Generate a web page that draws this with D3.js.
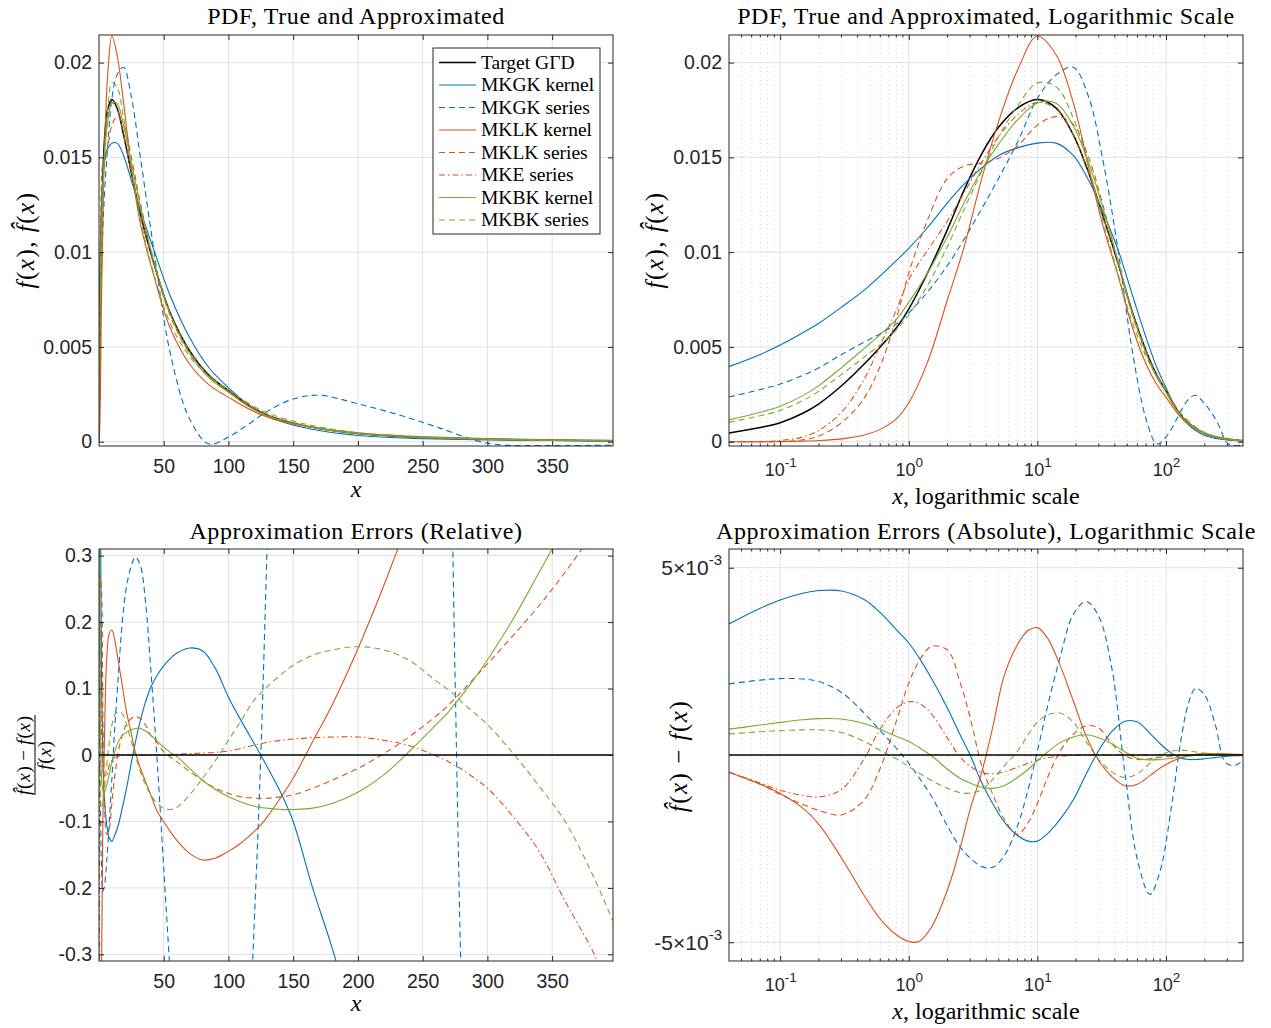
<!DOCTYPE html>
<html>
<head>
<meta charset="utf-8">
<script src="https://cdn.jsdelivr.net/npm/d3@7"></script>
<style>
  body { margin: 0; background: #fff; }
</style>
</head>
<body>
<script>
// ---- data ----

// PDF panels (top row), x sample points and values in units of 1e-3
const pdfX = [0.04, 0.07, 0.1, 0.15, 0.2, 0.3, 0.45, 0.6, 0.8, 1, 1.4, 2, 2.7, 3.7, 5, 7, 10, 14, 19, 25,
              32, 42, 55, 70, 85, 100, 115, 130, 150, 170, 200, 230, 260, 300, 350, 397];
const pdfTarget = [0.46, 0.75, 1.0, 1.5, 2.0, 2.95, 4.1, 5.0, 6.0, 7.0, 8.9, 11.2, 13.3, 15.2, 16.6, 17.6, 18.05, 17.6, 16.2, 14.2,
                   12.0, 9.5, 6.8, 4.8, 3.5, 2.7, 1.95, 1.4, 0.98, 0.7, 0.43, 0.29, 0.2, 0.13, 0.08, 0.05];
const pdfMkgkKernel = [3.96, 4.6, 5.1, 5.75, 6.25, 7.1, 8.0, 8.75, 9.55, 10.2, 11.3, 12.6, 13.6, 14.45, 15.1, 15.5, 15.75, 15.75, 15.1, 13.8,
                       12.2, 10.2, 7.7, 5.5, 3.9, 2.85, 1.97, 1.33, 0.88, 0.59, 0.33, 0.21, 0.14, 0.09, 0.06, 0.04];
const pdfMkgkSeries = [2.36, 2.75, 3.04, 3.5, 3.9, 4.6, 5.25, 5.7, 6.2, 6.8, 7.9, 9.3, 10.7, 12.3, 13.9, 15.8, 18.1, 19.35, 19.75, 18.2,
                       15.0, 10.3, 4.7, 1.2, -0.12, 0.25, 0.9, 1.6, 2.25, 2.45, 2.0, 1.45, 0.8, -0.08, -0.2, -0.18];
const pdfMklkKernel = [0.0, 0.0, 0.01, 0.03, 0.06, 0.15, 0.35, 0.65, 1.2, 2.05, 4.2, 7.5, 10.3, 13.9, 16.9, 19.6, 21.4, 20.4, 17.9, 14.5,
                       11.5, 8.85, 6.0, 4.1, 3.0, 2.35, 1.75, 1.3, 0.93, 0.7, 0.46, 0.33, 0.24, 0.16, 0.1, 0.07];
const pdfMklkSeries = [0.0, 0.0, 0.0, 0.1, 0.3, 1.0, 2.3, 4.0, 6.5, 8.9, 11.7, 13.9, 14.55, 14.7, 14.95, 15.6, 16.7, 17.15, 16.75, 15.0,
                       12.6, 9.55, 6.65, 4.65, 3.4, 2.65, 1.95, 1.4, 0.98, 0.7, 0.43, 0.29, 0.2, 0.13, 0.08, 0.05];
const pdfMkeSeries = [0.0, 0.0, 0.06, 0.25, 0.6, 1.55, 3.3, 5.1, 6.95, 8.55, 10.1, 11.65, 13.15, 14.75, 16.1, 17.25, 17.9, 17.55, 16.2, 14.2,
                      12.0, 9.5, 6.8, 4.8, 3.5, 2.72, 1.98, 1.43, 1.0, 0.72, 0.44, 0.3, 0.2, 0.13, 0.08, 0.05];
const pdfMkbkKernel = [1.15, 1.55, 1.87, 2.43, 2.96, 3.91, 4.92, 5.65, 6.45, 7.35, 8.9, 10.82, 12.62, 14.35, 15.71, 16.98, 17.87, 17.85, 16.67, 14.74,
                       12.43, 9.65, 6.73, 4.67, 3.37, 2.6, 1.87, 1.35, 0.96, 0.69, 0.43, 0.29, 0.2, 0.13, 0.08, 0.05];
const pdfMkbkSeries = [1.02, 1.37, 1.65, 2.17, 2.67, 3.55, 4.46, 5.12, 5.9, 6.69, 8.25, 10.31, 12.28, 14.28, 16.1, 17.7, 18.93, 18.72, 17.08, 14.5,
                       11.75, 8.95, 6.25, 4.5, 3.45, 2.75, 2.05, 1.52, 1.09, 0.78, 0.48, 0.32, 0.22, 0.14, 0.08, 0.05];

// relative errors (bottom left); values far outside the axis limits are capped at +-1
const relX = [0.04, 1, 2, 3, 4, 6, 8, 10, 12, 15, 18, 21, 25, 28, 32, 36, 40, 45, 50, 55, 60, 70, 80, 90, 100,
              110, 120, 125, 130, 140, 150, 165, 180, 200, 220, 240, 260, 270, 275, 280, 290, 300, 320, 340, 360, 380, 397];
const relTarget = relX.map(() => 0);
const relMkgkKernel = [1, 0.43, 0.11, 0.0, -0.06, -0.105, -0.125, -0.13, -0.122, -0.105, -0.08, -0.053, -0.012, 0.018, 0.052, 0.08, 0.102, 0.12, 0.134, 0.145, 0.153, 0.161, 0.157, 0.13, 0.087,
                       0.051, 0.017, 0.0, -0.018, -0.055, -0.1, -0.2, -0.29, -0.43, -0.6, -0.8, -1, -1, -1, -1, -1, -1, -1, -1, -1, -1, -1];
const relMkgkSeries = [1, -0.03, -0.17, -0.205, -0.2, -0.16, -0.1, -0.035, 0.035, 0.12, 0.2, 0.25, 0.285, 0.298, 0.285, 0.23, 0.13, -0.01, -0.17, -0.33, -0.5, -0.77, -0.93, -1, -0.92,
                       -0.68, -0.25, 0.0, 0.32, 0.95, 1, 1, 1, 1, 1, 1, 1, 0.6, 0.12, -0.36, -1, -1, -1, -1, -1, -1, -1];
const relMklkKernel = [-1, -0.71, -0.32, -0.1, 0.0, 0.145, 0.183, 0.188, 0.175, 0.14, 0.105, 0.068, 0.032, 0.005, -0.02, -0.04, -0.06, -0.085, -0.1, -0.115, -0.128, -0.148, -0.158, -0.155, -0.145,
                       -0.132, -0.115, -0.105, -0.093, -0.065, -0.035, 0.02, 0.075, 0.16, 0.255, 0.36, 0.48, 0.55, 0.6, 0.65, 0.75, 0.85, 1, 1, 1, 1, 1];
const relMklkSeries = [-1, 0.27, 0.25, 0.07, -0.04, -0.12, -0.11, -0.072, -0.035, 0.005, 0.03, 0.045, 0.055, 0.058, 0.055, 0.045, 0.03, 0.018, 0.005, -0.003, -0.01, -0.025, -0.038, -0.05, -0.058,
                       -0.063, -0.065, -0.065, -0.065, -0.063, -0.06, -0.05, -0.038, -0.02, 0.002, 0.028, 0.058, 0.075, 0.085, 0.095, 0.116, 0.137, 0.18, 0.225, 0.275, 0.33, 0.38];
const relMkeSeries = [-1, 0.2, 0.04, -0.02, -0.03, -0.03, -0.015, -0.008, -0.004, -0.002, 0, 0, 0, 0, 0, 0, 0, 0, 0, 0, 0.001, 0.002, 0.003, 0.004, 0.006,
                      0.01, 0.015, 0.017, 0.019, 0.022, 0.024, 0.026, 0.027, 0.027, 0.022, 0.014, -0.001, -0.01, -0.016, -0.021, -0.035, -0.05, -0.093, -0.145, -0.22, -0.29, -0.36];
const relMkbkKernel = [1, 0.05, -0.035, -0.053, -0.057, -0.045, -0.028, -0.01, 0.004, 0.02, 0.029, 0.034, 0.038, 0.04, 0.04, 0.036, 0.03, 0.021, 0.012, 0.004, -0.002, -0.02, -0.038, -0.052, -0.063,
                       -0.071, -0.077, -0.079, -0.08, -0.082, -0.082, -0.08, -0.073, -0.056, -0.03, 0.006, 0.045, 0.065, 0.077, 0.089, 0.115, 0.143, 0.205, 0.275, 0.345, 0.41, 0.47];
const relMkbkSeries = [1, -0.045, -0.08, -0.075, -0.055, -0.015, 0.02, 0.045, 0.06, 0.065, 0.062, 0.048, 0.02, 0.0, -0.025, -0.045, -0.06, -0.073, -0.08, -0.082, -0.079, -0.06, -0.035, -0.008, 0.022,
                       0.052, 0.083, 0.093, 0.103, 0.12, 0.135, 0.15, 0.158, 0.163, 0.158, 0.142, 0.112, 0.098, 0.09, 0.08, 0.063, 0.046, 0.002, -0.047, -0.1, -0.175, -0.25];

// absolute errors (bottom right), units of 1e-3
const errX = [0.04, 0.07, 0.1, 0.15, 0.2, 0.3, 0.45, 0.6, 0.8, 1, 1.2, 1.5, 2, 2.5, 3, 3.7, 4.5, 5.5, 7, 8.5,
              10, 12, 15, 19, 24, 30, 38, 48, 60, 75, 90, 110, 130, 150, 170, 200, 240, 290, 340, 397];
const errTarget = errX.map(() => 0);
const errMkgkKernel = [3.5, 3.92, 4.14, 4.32, 4.39, 4.38, 4.15, 3.8, 3.35, 2.99, 2.6, 2.05, 1.25, 0.55, 0.0, -0.75, -1.3, -1.78, -2.15, -2.3,
                       -2.3, -2.1, -1.72, -1.2, -0.5, 0.12, 0.63, 0.9, 0.88, 0.58, 0.3, 0.05, -0.08, -0.12, -0.12, -0.1, -0.07, -0.04, -0.02, -0.01];
const errMkgkSeries = [1.9, 2.0, 2.04, 2.03, 1.96, 1.67, 1.12, 0.65, 0.18, -0.22, -0.6, -1.1, -1.9, -2.45, -2.75, -2.98, -3.0, -2.7, -1.9, -0.9,
                       0.1, 1.3, 2.6, 3.75, 4.1, 3.7, 2.3, -0.5, -2.8, -3.72, -3.1, -1.4, 0.35, 1.4, 1.78, 1.6, 0.85, -0.2, -0.28, -0.15];
const errMklkKernel = [-0.46, -0.78, -1.03, -1.42, -1.85, -2.75, -3.75, -4.38, -4.8, -4.98, -4.98, -4.6, -3.6, -2.5, -1.45, -0.45, 0.75, 2.1, 2.95, 3.33,
                       3.4, 3.12, 2.4, 1.45, 0.5, -0.15, -0.58, -0.82, -0.78, -0.55, -0.35, -0.18, -0.08, -0.02, 0.02, 0.04, 0.04, 0.03, 0.02, 0.01];
const errMklkSeries = [-0.46, -0.78, -1.05, -1.32, -1.48, -1.6, -1.2, -0.35, 0.9, 1.92, 2.5, 2.9, 2.8, 1.95, 1.0, -0.3, -1.05, -1.7, -2.12, -1.8,
                       -1.3, -0.6, 0.1, 0.55, 0.78, 0.72, 0.3, -0.02, -0.12, -0.1, -0.06, -0.03, -0.01, 0, 0, 0, 0, 0, 0, 0];
const errMkeSeries = [-0.46, -0.75, -0.94, -1.08, -1.12, -0.92, -0.1, 0.7, 1.25, 1.42, 1.38, 1.1, 0.45, -0.05, -0.3, -0.47, -0.5, -0.45, -0.33, -0.22,
                      -0.14, -0.07, -0.03, -0.01, 0, 0, 0, 0, 0, 0, 0, 0, 0, 0, 0, 0, 0, 0, 0, 0];
const errMkbkKernel = [0.69, 0.8, 0.87, 0.94, 0.97, 0.96, 0.84, 0.68, 0.5, 0.36, 0.2, -0.02, -0.38, -0.62, -0.75, -0.86, -0.89, -0.82, -0.6, -0.38,
                       -0.15, 0.08, 0.33, 0.48, 0.54, 0.46, 0.3, 0.08, -0.09, -0.13, -0.12, -0.09, -0.06, -0.03, -0.01, 0, 0, 0, 0, 0];
const errMkbkSeries = [0.56, 0.62, 0.65, 0.67, 0.67, 0.6, 0.36, 0.12, -0.1, -0.31, -0.48, -0.68, -0.89, -1.0, -1.02, -0.92, -0.65, -0.3, 0.1, 0.55,
                       0.88, 1.07, 1.12, 0.88, 0.35, -0.12, -0.45, -0.6, -0.5, -0.22, -0.02, 0.1, 0.13, 0.11, 0.08, 0.05, 0.03, 0.01, 0, 0];

const seriesNames = ['Target G\u0393D', 'MKGK kernel', 'MKGK series', 'MKLK kernel', 'MKLK series', 'MKE series', 'MKBK kernel', 'MKBK series'];

const linTicks = [50, 100, 150, 200, 250, 300, 350];
const logTicks = [0.1, 1, 10, 100];
const pdfTicks = [0, 0.005, 0.01, 0.015, 0.02];
const relTicks = [-0.3, -0.2, -0.1, 0, 0.1, 0.2, 0.3];
const errTicks = [-0.005, 0.005];

// ---- styling ----
const BLUE = '#0072BD', ORANGE = '#D95319', GREEN = '#77AC30';
const styles = [
  {color: '#000', dash: null, width: 1.5},
  {color: BLUE, dash: null, width: 1.1},
  {color: BLUE, dash: '6,4', width: 1.1},
  {color: ORANGE, dash: null, width: 1.1},
  {color: ORANGE, dash: '6,4', width: 1.1},
  {color: ORANGE, dash: '6,3,1.5,3', width: 1.1},
  {color: GREEN, dash: null, width: 1.1},
  {color: GREEN, dash: '6,4', width: 1.1}
];
const SANS = 'Liberation Sans, Arial, Helvetica, sans-serif';
const SERIF = 'Liberation Serif, Times New Roman, serif';
const AXC = '#262626';

const svg = d3.select('body').append('svg')
  .attr('width', 1271).attr('height', 1028)
  .style('background', '#fff');

const line = d3.line().curve(d3.curveCatmullRom.alpha(0.5));

function minorLogTicks(domain) {
  const out = [];
  for (let e = -2; e <= 3; e++) {
    for (let m = 2; m <= 9; m++) {
      const v = m * Math.pow(10, e);
      if (v > domain[0] && v < domain[1]) out.push(v);
    }
  }
  return out;
}

// writes a mix of italic / upright pieces into a text element
function mathText(t, parts) {
  parts.forEach(([s, it]) => {
    t.append('tspan').text(s).attr('font-style', it ? 'italic' : 'normal');
  });
  return t;
}

function drawPanel(cfg) {
  const {left, top, width, height} = cfg.box;
  const x = cfg.x.copy().range([left, left + width]);
  const y = cfg.y.copy().range([top + height, top]);
  const g = svg.append('g');
  const clipId = 'clip-' + cfg.id;
  svg.append('clipPath').attr('id', clipId)
    .append('rect').attr('x', left).attr('y', top).attr('width', width).attr('height', height);

  // minor grid (log axes only)
  let minor = [];
  if (cfg.log) {
    minor = minorLogTicks(x.domain());
    g.append('g').selectAll('line').data(minor).join('line')
      .attr('x1', d => x(d)).attr('x2', d => x(d))
      .attr('y1', top).attr('y2', top + height)
      .attr('stroke', '#c4c4c4').attr('stroke-width', 0.8)
      .attr('stroke-dasharray', '1,3.5');
  }
  // major grid
  g.append('g').selectAll('line').data(cfg.xTicks).join('line')
    .attr('x1', d => x(d)).attr('x2', d => x(d))
    .attr('y1', top).attr('y2', top + height)
    .attr('stroke', '#e0e0e0').attr('stroke-width', 1);
  g.append('g').selectAll('line').data(cfg.yTicks).join('line')
    .attr('x1', left).attr('x2', left + width)
    .attr('y1', d => y(d)).attr('y2', d => y(d))
    .attr('stroke', '#e0e0e0').attr('stroke-width', 1);

  // curves
  const lg = g.append('g').attr('clip-path', `url(#${clipId})`);
  cfg.series.forEach(s => {
    const pts = cfg.xs.map((xv, i) => [x(xv), y(s.values[i] * cfg.unit)]);
    lg.append('path').datum(pts)
      .attr('d', line)
      .attr('fill', 'none')
      .attr('stroke', s.style.color)
      .attr('stroke-width', s.style.width)
      .attr('stroke-dasharray', s.style.dash)
      .attr('stroke-linejoin', 'round');
  });

  // axes
  const xb = d3.axisBottom(x).tickValues(cfg.xTicks).tickSizeInner(-5).tickSizeOuter(0).tickPadding(13);
  const xt = d3.axisTop(x).tickValues(cfg.xTicks).tickSizeInner(-5).tickSizeOuter(0).tickFormat('');
  const yl = d3.axisLeft(y).tickValues(cfg.yTicks).tickSizeInner(-5).tickSizeOuter(0).tickPadding(7);
  const yr = d3.axisRight(y).tickValues(cfg.yTicks).tickSizeInner(-5).tickSizeOuter(0).tickFormat('');
  if (cfg.log) xb.tickFormat('');
  else xb.tickFormat(d3.format('d'));
  yl.tickFormat(cfg.yFormat || (d => String(d)));

  const gxb = g.append('g').attr('transform', `translate(0,${top + height})`).call(xb);
  const gxt = g.append('g').attr('transform', `translate(0,${top})`).call(xt);
  const gyl = g.append('g').attr('transform', `translate(${left},0)`).call(yl);
  const gyr = g.append('g').attr('transform', `translate(${left + width},0)`).call(yr);
  [gxb, gxt, gyl, gyr].forEach(a => {
    a.select('.domain').remove();
    a.selectAll('line').attr('stroke', AXC).attr('stroke-width', 1);
    a.selectAll('text').attr('font-family', SANS).attr('font-size', 19.5).attr('fill', AXC);
  });

  if (cfg.log) {
    // 10^k labels
    gxb.selectAll('.tick text').each(function (d) {
      const t = d3.select(this).text('').attr('dy', null).attr('y', 30);
      t.append('tspan').text('10').attr('font-size', 18);
      t.append('tspan').text(String(Math.round(Math.log10(d))))
        .attr('font-size', 13.5).attr('dy', -9);
    });
    // minor ticks
    [[top + height, -2.5], [top, 2.5]].forEach(([yy, len]) => {
      g.append('g').selectAll('line').data(minor).join('line')
        .attr('x1', d => x(d)).attr('x2', d => x(d))
        .attr('y1', yy).attr('y2', yy + len)
        .attr('stroke', AXC).attr('stroke-width', 1);
    });
  }
  if (cfg.yTex) {
    gyl.selectAll('.tick text').each(function (d) {
      const t = d3.select(this).text('').attr('font-size', 21);
      t.append('tspan').text((d < 0 ? '-' : '') + '5\u00D710');
      t.append('tspan').text('-3').attr('font-size', 15).attr('dy', -10);
    });
  }

  // box
  g.append('rect').attr('x', left).attr('y', top).attr('width', width).attr('height', height)
    .attr('fill', 'none').attr('stroke', AXC).attr('stroke-width', 1);

  // title
  g.append('text').attr('x', left + width / 2).attr('y', cfg.titleY)
    .attr('text-anchor', 'middle').attr('font-family', SERIF).attr('font-size', 24)
    .attr('letter-spacing', 0.6).attr('fill', '#000')
    .text(cfg.title);

  // x label
  const xl = g.append('text').attr('x', left + width / 2).attr('y', cfg.xLabelY)
    .attr('text-anchor', 'middle').attr('font-family', SERIF).attr('font-size', 24).attr('fill', '#000');
  mathText(xl, cfg.xLabel);

  return {x, y, g};
}

const pdfSeries = [pdfTarget, pdfMkgkKernel, pdfMkgkSeries, pdfMklkKernel, pdfMklkSeries, pdfMkeSeries, pdfMkbkKernel, pdfMkbkSeries]
  .map((values, i) => ({values, style: styles[i]}));
const relSeries = [relMkgkKernel, relMkgkSeries, relMklkKernel, relMklkSeries, relMkeSeries, relMkbkKernel, relMkbkSeries, relTarget]
  .map((values, i) => ({values, style: styles[(i + 1) % 8]}));
const errSeries = [errMkgkKernel, errMkgkSeries, errMklkKernel, errMklkSeries, errMkeSeries, errMkbkKernel, errMkbkSeries, errTarget]
  .map((values, i) => ({values, style: styles[(i + 1) % 8]}));

const linX = d3.scaleLinear().domain([0.04, 397]);
const logX = d3.scaleLog().domain([0.04, 397]);
const pdfY = d3.scaleLinear().domain([-0.000227, 0.021455]);

// top left
drawPanel({
  id: 'p1', box: {left: 99, top: 35, width: 514, height: 411},
  x: linX, y: pdfY, xs: pdfX, unit: 1e-3, series: pdfSeries,
  xTicks: linTicks, yTicks: pdfTicks, title: 'PDF, True and Approximated', titleY: 24,
  xLabel: [['x', 1]], xLabelY: 497
});
// top right
drawPanel({
  id: 'p2', box: {left: 729, top: 35, width: 514, height: 411}, log: true,
  x: logX, y: pdfY, xs: pdfX, unit: 1e-3, series: pdfSeries,
  xTicks: logTicks, yTicks: pdfTicks, title: 'PDF, True and Approximated, Logarithmic Scale', titleY: 24,
  xLabel: [['x', 1], [', logarithmic scale', 0]], xLabelY: 504
});
// bottom left
drawPanel({
  id: 'p3', box: {left: 99, top: 549, width: 514, height: 412},
  x: linX, y: d3.scaleLinear().domain([-0.31, 0.31]), xs: relX, unit: 1, series: relSeries,
  xTicks: linTicks, yTicks: relTicks, title: 'Approximation Errors (Relative)', titleY: 539,
  xLabel: [['x', 1]], xLabelY: 1011
});
// bottom right
drawPanel({
  id: 'p4', box: {left: 729, top: 549, width: 514, height: 412}, log: true, yTex: true,
  x: logX, y: d3.scaleLinear().domain([-0.0055, 0.0055]), xs: errX, unit: 1e-3, series: errSeries,
  xTicks: logTicks, yTicks: errTicks, title: 'Approximation Errors (Absolute), Logarithmic Scale', titleY: 539,
  xLabel: [['x', 1], [', logarithmic scale', 0]], xLabelY: 1019
});

// y labels
const yLab = (tx, ty, parts) => {
  const t = svg.append('text').attr('transform', `translate(${tx},${ty}) rotate(-90)`)
    .attr('text-anchor', 'middle').attr('font-family', SERIF).attr('font-size', 25)
    .attr('letter-spacing', 1.5).attr('fill', '#000');
  mathText(t, parts);
};
const fxLabel = [['f', 1], ['(', 0], ['x', 1], ['), ', 0], ['f\u0302', 1], ['(', 0], ['x', 1], [')', 0]];
yLab(34, 240, fxLabel);
yLab(663, 240, fxLabel);
yLab(687, 756, [['f\u0302', 1], ['(', 0], ['x', 1], [') \u2212 ', 0], ['f', 1], ['(', 0], ['x', 1], [')', 0]]);

// fraction label of the relative error panel
const frac = svg.append('g').attr('transform', 'translate(35,755) rotate(-90)');
mathText(frac.append('text').attr('y', -5).attr('text-anchor', 'middle')
  .attr('font-family', SERIF).attr('font-size', 19).attr('letter-spacing', 0.8),
  [['f\u0302', 1], ['(', 0], ['x', 1], [')\u2009\u2212\u2009', 0], ['f', 1], ['(', 0], ['x', 1], [')', 0]]);
frac.append('line').attr('x1', -40).attr('x2', 40).attr('y1', 0).attr('y2', 0)
  .attr('stroke', '#000').attr('stroke-width', 1);
mathText(frac.append('text').attr('y', 16).attr('text-anchor', 'middle')
  .attr('font-family', SERIF).attr('font-size', 19).attr('letter-spacing', 0.8),
  [['f', 1], ['(', 0], ['x', 1], [')', 0]]);

// legend (top left panel)
const leg = svg.append('g');
leg.append('rect').attr('x', 433).attr('y', 48).attr('width', 167).attr('height', 186)
  .attr('fill', '#fff').attr('stroke', AXC).attr('stroke-width', 1);
seriesNames.forEach((name, i) => {
  const cy = 62.5 + i * 22.5;
  const st = styles[i];
  leg.append('line').attr('x1', 439).attr('x2', 476).attr('y1', cy).attr('y2', cy)
    .attr('stroke', st.color).attr('stroke-width', st.width).attr('stroke-dasharray', st.dash);
  leg.append('text').attr('x', 481).attr('y', cy).attr('dy', '0.33em')
    .attr('font-family', SERIF).attr('font-size', 19.5).attr('fill', '#000').text(name);
});
</script>
</body>
</html>
